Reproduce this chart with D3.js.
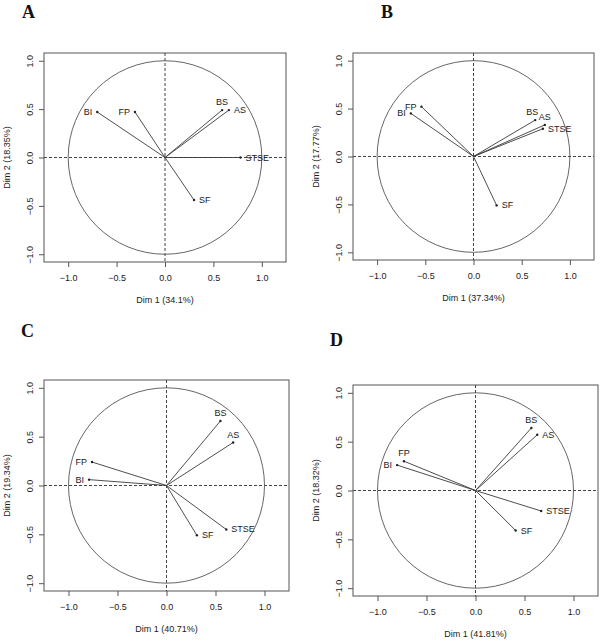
<html>
<head>
<meta charset="utf-8">
<script src="https://cdnjs.cloudflare.com/ajax/libs/d3/7.8.5/d3.min.js"></script>
<style>
  body { margin: 0; background: #fff; }
  text { font-family: "Liberation Sans", Arial, sans-serif; fill: #1a1a1a; }
  .letter { font-family: "Liberation Serif", "Times New Roman", serif; font-weight: bold; font-size: 18px; fill: #111; }
</style>
</head>
<body>
<svg id="chart" width="600" height="643"></svg>
<script>

// variables shown in every panel
var variables = ["BI", "FP", "BS", "AS", "STSE", "SF"];
var panelNames = ["A", "B", "C", "D"];
var dim1Pct = ["34.1%", "37.34%", "40.71%", "41.81%"];
var dim2Pct = ["18.35%", "17.77%", "19.34%", "18.32%"];

// coordinates on Dim 1 / Dim 2
var dim1A = [-0.70, -0.31, 0.59, 0.66, 0.78, 0.30];
var dim2A = [ 0.47,  0.47, 0.49, 0.49, 0.00, -0.44];
var dim1B = [-0.65, -0.54, 0.64, 0.74, 0.72, 0.24];
var dim2B = [ 0.45,  0.52, 0.38, 0.33, 0.29, -0.51];
var dim1C = [-0.79, -0.76, 0.55, 0.68, 0.61, 0.31];
var dim2C = [ 0.06,  0.24, 0.66, 0.44, -0.45, -0.51];
var dim1D = [-0.80, -0.73, 0.57, 0.63, 0.67, 0.41];
var dim2D = [ 0.26,  0.30, 0.64, 0.57, -0.21, -0.41];

var ticks = [-1.0, -0.5, 0.0, 0.5, 1.0];

// where each label sits around its point
var labelPos = [
  ["left", "left", "above", "right", "right", "right"],
  ["left", "left", "aboveleft", "above", "right", "right"],
  ["left", "left", "above", "above", "right", "right"],
  ["left", "above", "above", "right", "right", "right"]
];

// plot frames and panel letters
var frames = [
  {x: 44, y: 53, w: 242, h: 209},
  {x: 353, y: 53, w: 241, h: 207},
  {x: 44, y: 380, w: 245, h: 211},
  {x: 353, y: 385, w: 245, h: 211}
];
var letters = [{x: 22, y: 18}, {x: 381, y: 18}, {x: 21, y: 337}, {x: 330, y: 346}];

var dim1 = [dim1A, dim1B, dim1C, dim1D];
var dim2 = [dim2A, dim2B, dim2C, dim2D];

var svg = d3.select("#chart");
var fmt = d3.format(".1f");
var lineCol = "#3a3a3a";

panelNames.forEach(function(name, p){
  var f = frames[p];
  var x = d3.scaleLinear().domain([-1.25, 1.25]).range([f.x, f.x + f.w]);
  var y = d3.scaleLinear().domain([-1.08, 1.08]).range([f.y + f.h, f.y]);
  var g = svg.append("g");

  g.append("text").attr("class", "letter")
    .attr("x", letters[p].x).attr("y", letters[p].y).text(name);

  // box
  g.append("rect")
    .attr("x", f.x).attr("y", f.y).attr("width", f.w).attr("height", f.h)
    .attr("fill", "none").attr("stroke", "#555").attr("stroke-width", 1);

  // axes
  var xAxis = d3.axisBottom(x).tickValues(ticks).tickFormat(fmt).tickSize(5).tickPadding(4);
  var ax = g.append("g").attr("transform", "translate(0," + (f.y + f.h) + ")").call(xAxis);
  var yAxis = d3.axisLeft(y).tickValues(ticks).tickFormat(fmt).tickSize(5).tickPadding(4);
  var ay = g.append("g").attr("transform", "translate(" + f.x + ",0)").call(yAxis);
  [ax, ay].forEach(function(a){
    a.select(".domain").remove();
    a.selectAll("line").attr("stroke", "#555");
    a.selectAll("text").style("font-size", "9px");
  });
  ay.selectAll(".tick text")
    .attr("text-anchor", "middle")
    .attr("dy", null)
    .attr("x", -14).attr("y", 0)
    .attr("dominant-baseline", "central")
    .attr("transform", "rotate(-90,-14,0)");
  ax.selectAll(".tick text").attr("dy", null).attr("y", 16).attr("dominant-baseline", "central");

  // axis titles
  g.append("text")
    .attr("x", f.x + f.w / 2).attr("y", f.y + f.h + 38)
    .attr("text-anchor", "middle").attr("dominant-baseline", "central")
    .style("font-size", "9px")
    .text("Dim 1 (" + dim1Pct[p] + ")");
  g.append("text")
    .attr("transform", "translate(" + (f.x - 37) + "," + (f.y + f.h / 2) + ") rotate(-90)")
    .attr("text-anchor", "middle").attr("dominant-baseline", "central")
    .style("font-size", "9px")
    .text("Dim 2 (" + dim2Pct[p] + ")");

  // dashed zero lines
  g.append("line")
    .attr("x1", f.x).attr("x2", f.x + f.w).attr("y1", y(0)).attr("y2", y(0))
    .attr("stroke", "#444").attr("stroke-dasharray", "3,2");
  g.append("line")
    .attr("x1", x(0)).attr("x2", x(0)).attr("y1", f.y).attr("y2", f.y + f.h)
    .attr("stroke", "#444").attr("stroke-dasharray", "3,2");

  // unit circle
  g.append("ellipse")
    .attr("cx", x(0)).attr("cy", y(0))
    .attr("rx", x(1) - x(0)).attr("ry", y(0) - y(1))
    .attr("fill", "none").attr("stroke", "#555").attr("stroke-width", 0.9);

  var pts = variables.map(function(v, i){
    return {name: v, d1: dim1[p][i], d2: dim2[p][i], pos: labelPos[p][i]};
  });

  g.selectAll(".vec").data(pts).enter().append("line")
    .attr("x1", x(0)).attr("y1", y(0))
    .attr("x2", function(d){ return x(d.d1); })
    .attr("y2", function(d){ return y(d.d2); })
    .attr("stroke", lineCol).attr("stroke-width", 0.9);

  g.selectAll(".dot").data(pts).enter().append("circle")
    .attr("cx", function(d){ return x(d.d1); })
    .attr("cy", function(d){ return y(d.d2); })
    .attr("r", 1.2).attr("fill", "#222");

  g.selectAll(".lab").data(pts).enter().append("text")
    .attr("x", function(d){
      if (d.pos == "left") return x(d.d1) - 5;
      if (d.pos == "right") return x(d.d1) + 5;
      if (d.pos == "aboveleft") return x(d.d1) + 3;
      return x(d.d1);
    })
    .attr("y", function(d){
      return (d.pos == "above" || d.pos == "aboveleft") ? y(d.d2) - 8 : y(d.d2);
    })
    .attr("text-anchor", function(d){
      if (d.pos == "left" || d.pos == "aboveleft") return "end";
      if (d.pos == "right") return "start";
      return "middle";
    })
    .attr("dominant-baseline", "central")
    .style("font-size", "9px")
    .text(function(d){ return d.name; });
});

</script>
</body>
</html>
